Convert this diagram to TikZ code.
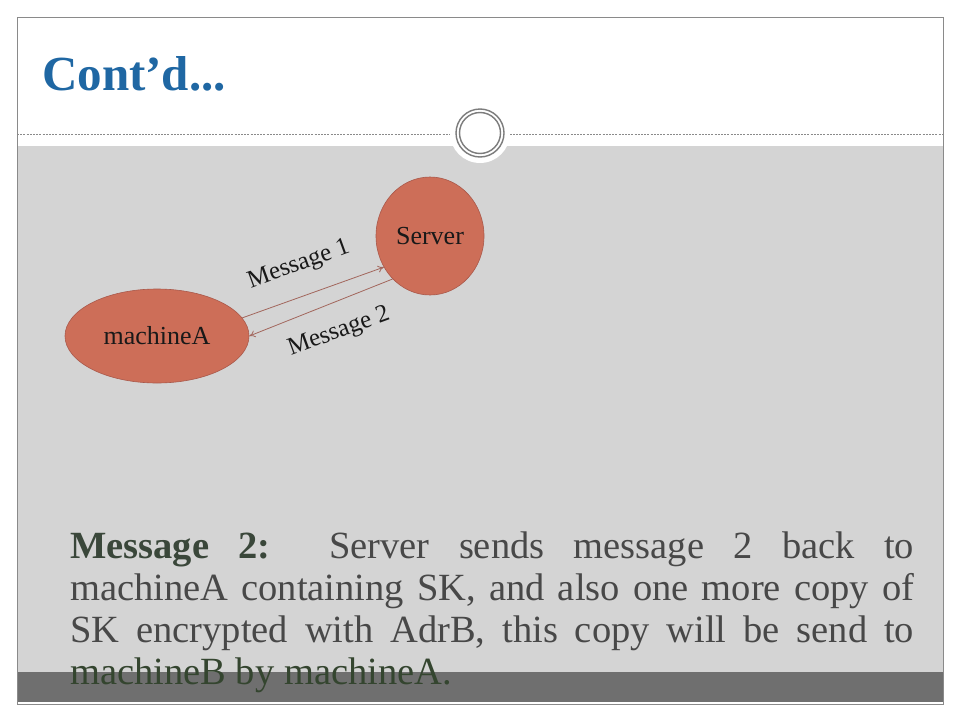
\documentclass[tikz,border=0pt]{standalone}
\usepackage{fontspec}
\setmainfont{Liberation Serif}
\usetikzlibrary{arrows.meta,shapes.geometric}
\definecolor{bggray}{HTML}{D4D4D4}
\definecolor{stripgray}{HTML}{6F6F6F}
\definecolor{framegray}{HTML}{8A8A8A}
\definecolor{titleblue}{HTML}{1F67A3}
\definecolor{nodefill}{HTML}{CD6E58}
\definecolor{nodeedge}{HTML}{A9584A}
\definecolor{msgline}{HTML}{A2665C}
\definecolor{txtgray}{HTML}{484848}
\definecolor{boldgreen}{HTML}{3A473A}
\definecolor{lastgreen}{HTML}{34452F}
\tikzset{
  hostnode/.style={ellipse, fill=nodefill, draw=nodeedge, line width=0.6pt, inner sep=0pt,
                   font=\fontsize{26}{30}\selectfont, text=black!90},
  msgarrow/.style={draw=msgline, line width=0.8pt, -{To[length=6pt,width=7pt]}},
  msglabel/.style={font=\fontsize{25}{28}\selectfont, text=black!90, inner sep=0pt},
  ringline/.style={draw=framegray!90!black, line width=1.4pt}
}
\begin{document}
\begin{tikzpicture}[x=1pt,y=-1pt]
\useasboundingbox (0,0) rectangle (960,720);
\fill[white] (0,0) rectangle (960,720);
% slide areas
\fill[bggray] (17,146) rectangle (943,672);
\fill[stripgray] (17,672) rectangle (943,702);
\draw[framegray, line width=1pt] (17,17) rectangle (943,704);
\draw[framegray, line width=0.7pt, dash pattern=on 2pt off 1.2pt] (17,134) -- (943,134);
% ornament circle
\fill[white] (480,133) circle (30pt);
\draw[ringline] (480,133) circle (24pt);
\draw[ringline] (480,133) circle (20.5pt);
% title
\node[anchor=base west, inner sep=0pt, font=\fontsize{49}{52}\selectfont\bfseries, text=titleblue] (title) at (42,90) {Cont’d...};
% diagram
\node[hostnode, minimum width=184pt, minimum height=94pt] (mA) at (157,336) {machineA};
\node[hostnode, minimum width=108pt, minimum height=118pt] (srv) at (430,236) {Server};
\draw[msgarrow] (mA.12) -- (srv.214);
\draw[msgarrow] (srv.229) -- (mA.0);
\node[msglabel, rotate=20] (l1) at (299,265) {Message 1};
\node[msglabel, rotate=20] (l2) at (339,332) {Message 2};
% body text
\node[anchor=north west, inner sep=0pt, text width=844pt, align=justify,
      font=\fontsize{38.5}{42}\selectfont, text=txtgray] (body) at (70,532)
  {\textcolor{boldgreen}{\textbf{Message 2:}}\ \ Server sends message 2 back to\linebreak
   machineA containing SK, and also one more copy of\linebreak
   SK encrypted with AdrB, this copy will be send to\linebreak
   {\color{lastgreen}machineB by machineA.}};
\end{tikzpicture}
\end{document}
